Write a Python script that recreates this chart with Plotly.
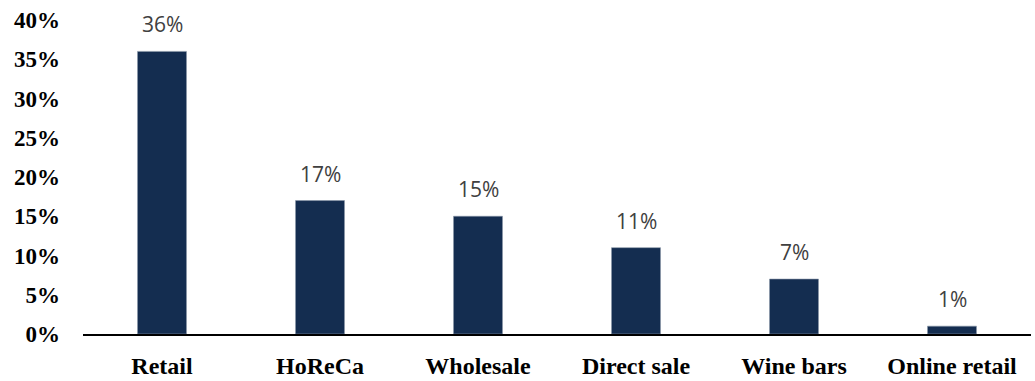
import plotly.graph_objects as go

# Share of sales by distribution channel (%)
channels = ["Retail", "HoReCa", "Wholesale", "Direct sale", "Wine bars", "Online retail"]
shares = [36, 17, 15, 11, 7, 1]
y_ticks = [0, 5, 10, 15, 20, 25, 30, 35, 40]
y_tick_labels = ["0%", "5%", "10%", "15%", "20%", "25%", "30%", "35%", "40%"]

BAR = "#142D50"

fig = go.Figure(
    go.Bar(
        x=channels,
        y=shares,
        width=0.31,
        marker=dict(color=BAR, line=dict(color="#8a97a8", width=0.6)),
        hoverinfo="skip",
    )
)

# value labels above each bar
for name, v in zip(channels, shares):
    fig.add_annotation(
        x=name, y=v, text=f"{v}%", showarrow=False,
        yanchor="bottom", yshift=11,
        font=dict(family="Open Sans", size=21, color="#404040"),
    )

fig.update_layout(
    width=1035, height=381,
    margin=dict(l=83, r=4, t=20, b=47),
    paper_bgcolor="white", plot_bgcolor="white",
    showlegend=False,
    bargap=0.69,
)
fig.update_xaxes(
    automargin=False,
    showline=True, linecolor="black", linewidth=2,
    ticks="", ticklabelstandoff=9,
    tickfont=dict(family="Liberation Serif", size=24, color="black", weight="bold"),
)
fig.update_yaxes(
    automargin=False,
    range=[0, 40], tickvals=y_ticks, ticktext=y_tick_labels,
    showgrid=False, zeroline=False, showline=False,
    ticks="", ticklabelstandoff=22,
    tickfont=dict(family="Liberation Serif", size=23, color="black", weight="bold"),
)

fig.write_html("out.html")
